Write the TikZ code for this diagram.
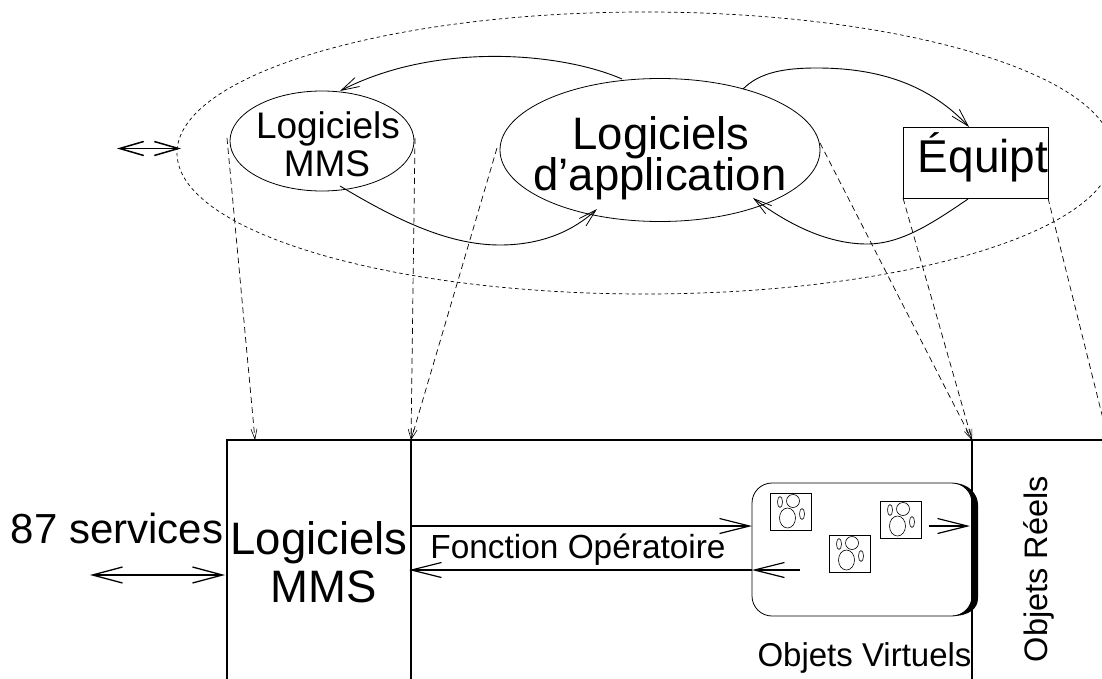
\documentclass[tikz,border=0pt]{standalone}
\usepackage{fontspec}
\setmainfont{Liberation Sans}
\usetikzlibrary{arrows.meta,shapes.geometric}
\tikzset{
  x=1pt,y=-1pt,
  flow/.style={line width=0.9pt,-{Straight Barb[length=18pt,width=10pt,line width=0.8pt]}},
  bigarrow/.style={line width=1.3pt,-{Straight Barb[length=30pt,width=15pt,line width=1.2pt]}},
  bothbig/.style={line width=1.4pt,{Straight Barb[length=30pt,width=16pt,line width=1.3pt]}-{Straight Barb[length=30pt,width=16pt,line width=1.3pt]}},
  proj/.style={line width=0.7pt,dash pattern=on 6pt off 4pt,-{Straight Barb[length=10pt,width=6pt,line width=0.6pt]}},
  rule/.style={line width=2pt},
  ell/.style={draw,ellipse,line width=0.8pt,inner sep=0pt,outer sep=0pt},
  lbl/.style={anchor=base,inner sep=0pt,outer sep=0pt},
  pics/iconbox/.style={code={
    \draw[line width=0.6pt] (0,0) rectangle (41,37);
    \draw[line width=0.6pt] (10,9) ellipse [x radius=2.5,y radius=5.5];
    \draw[line width=0.6pt] (23,8) circle [radius=6.5];
    \draw[line width=0.6pt] (17.5,25) ellipse [x radius=8,y radius=10];
    \draw[line width=0.6pt] (32,21) ellipse [x radius=2.5,y radius=5.5];
  }}
}
\begin{document}
\begin{tikzpicture}
\useasboundingbox (0,0) rectangle (1102,679);
\clip (0,0) rectangle (1102,679);

% upper group
\node[ell,line width=0.7pt,dash pattern=on 3.5pt off 3pt,minimum width=936pt,minimum height=282pt] (cloud) at (645,153) {};
\node[ell,minimum width=184pt,minimum height=100pt] (mmsE) at (322,141) {};
\node[ell,minimum width=320pt,minimum height=143pt] (appE) at (660,150) {};
\node[draw,line width=0.8pt,minimum width=145pt,minimum height=71pt,inner sep=0pt,outer sep=0pt] (eq) at (975.5,162.5) {};

\node[lbl,font=\fontsize{37}{37}\selectfont] (t1) at (328,139) {Logiciels};
\node[lbl,font=\fontsize{37}{37}\selectfont] (t2) at (327,176) {MMS};
\node[lbl,font=\fontsize{45.5}{45.5}\selectfont] (t3) at (661,150) {Logiciels};
\node[lbl,font=\fontsize{45.5}{45.5}\selectfont] (t4) at (660,190) {d’application};
\node[lbl,font=\fontsize{46}{46}\selectfont] (t5) at (983,173) {Équipt};

% flows between the upper elements
\coordinate (a1) at (622,79);
\coordinate (a2) at (340,91);
\draw[flow] (a1) .. controls (560,52) and (435,42) .. (a2);
\coordinate (b1) at (340,186);
\coordinate (b2) at (597,209);
\draw[flow] (b1) .. controls (400,222) and (450,245) .. (500,245) .. controls (540,245) and (572,232) .. (b2);
\coordinate (c1) at (743,89);
\coordinate (c2) at (969,127);
\draw[flow] (c1) .. controls (760,72) and (785,68) .. (817,68) .. controls (870,68) and (925,80) .. (c2);
\coordinate (d1) at (968,199);
\coordinate (d2) at (753,198);
\draw[flow] (d1) .. controls (930,225) and (900,244) .. (867,244) .. controls (825,244) and (785,222) .. (d2);

% double arrow at the group
\coordinate (e1) at (117,148.5);
\coordinate (e2) at (181,148.5);
\draw[line width=1.1pt,{Straight Barb[length=24pt,width=14pt,line width=1.5pt]}-{Straight Barb[length=24pt,width=14pt,line width=1.5pt]}] (e1) -- (e2);

% lower frame
\coordinate (fTL) at (227,440);
\coordinate (fBL) at (227,679);
\coordinate (fTR) at (1102,440);
\coordinate (gT) at (411,440);
\coordinate (gB) at (411,679);
\coordinate (hT) at (972,440);
\coordinate (hB) at (972,679);
\draw[rule] (fBL) -- (fTL) -- (fTR);
\draw[rule] (gT) -- (gB);
\draw[rule] (hT) -- (hB);

% projections
\coordinate (p1) at (227,138);
\coordinate (p2) at (255,440);
\coordinate (p3) at (415,138);
\coordinate (p4) at (497,148);
\coordinate (p5) at (820,143);
\coordinate (p6) at (903,198);
\coordinate (p7) at (1048,198);
\coordinate (p8) at (1110,447);
\draw[proj] (p1) -- (p2);
\draw[proj] (p3) -- (gT);
\draw[proj] (p4) -- (gT);
\draw[proj] (p5) -- (hT);
\draw[proj] (p6) -- (hT);
\draw[proj] (p7) -- (p8);

% virtual objects box
\draw[line width=0.8pt,rounded corners=20pt] (752,483) rectangle (972,616);
\fill (952,483) .. controls (970,483) and (978,495) .. (978,505) -- (978,598)
  .. controls (978,608) and (970,616) .. (952,616)
  .. controls (965,615) and (972,605) .. (972,596) -- (972,503)
  .. controls (972,492) and (965,484) .. (952,483) -- cycle;
\pic at (770,493) {iconbox};
\pic at (829,535) {iconbox};
\pic at (880,501) {iconbox};

% arrows
\coordinate (m1) at (411,526);
\coordinate (m2) at (752,526);
\coordinate (m3) at (800,570);
\coordinate (m4) at (409,570);
\coordinate (m7) at (752,570);
\coordinate (m5) at (929,526);
\coordinate (m6) at (970,526);
\coordinate (s1) at (90,575);
\coordinate (s2) at (225,575);
\draw[bigarrow] (m1) -- (m2);
\draw[bigarrow,line width=1.7pt] (m3) -- (m7);
\draw[bigarrow,line width=1.7pt] (m7) -- (m4);
\draw[bigarrow] (m5) -- (m6);
\draw[bothbig] (s1) -- (s2);

% lower labels
\node[lbl,font=\fontsize{42}{42}\selectfont] (u1) at (117,543) {87 services};
\node[lbl,font=\fontsize{45.5}{45.5}\selectfont] (u2) at (319,554) {Logiciels};
\node[lbl,font=\fontsize{45.5}{45.5}\selectfont] (u3) at (324,602) {MMS};
\node[lbl,font=\fontsize{33.4}{33.4}\selectfont] (u4) at (578,558) {Fonction Opératoire};
\node[lbl,font=\fontsize{33}{33}\selectfont] (u5) at (864.5,666) {Objets Virtuels};
\node[lbl,font=\fontsize{32.5}{32.5}\selectfont,rotate=90] (u6) at (1047,569) {Objets Réels};
\end{tikzpicture}
\end{document}
